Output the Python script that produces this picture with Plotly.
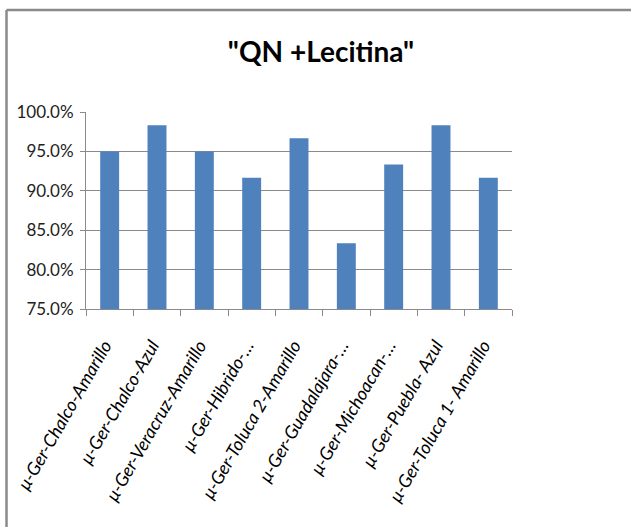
import plotly.graph_objects as go

categories = [
    "μ-Ger-Chalco-Amarillo",
    "μ-Ger-Chalco-Azul",
    "μ-Ger-Veracruz-Amarillo",
    "μ-Ger-Hibrido-…",
    "μ-Ger-Toluca 2-Amarillo",
    "μ-Ger-Guadalajara-…",
    "μ-Ger-Michoacan-…",
    "μ-Ger-Puebla- Azul",
    "μ-Ger-Toluca 1- Amarillo",
]
values = [0.95, 0.9833, 0.95, 0.9167, 0.9667, 0.8333, 0.9333, 0.9833, 0.9167]
y_ticks = [0.75, 0.80, 0.85, 0.90, 0.95, 1.00]
title_text = '"QN +Lecitina"'

W, H = 631, 527
L, R, T, B = 86, 512, 112, 309
pw, ph = R - L, B - T

font_family = "Lato, Open Sans, sans-serif"

fig = go.Figure(go.Bar(
    x=categories, y=values,
    marker=dict(color="#4F81BD", line=dict(width=0)),
    width=0.4,
))

def px_x(x):
    return (x - L) / pw

def px_y(y):
    return (B - y) / ph

fig.update_layout(
    width=W, height=H,
    margin=dict(l=L, r=W - R, t=T, b=H - B, autoexpand=False),
    paper_bgcolor="white", plot_bgcolor="white",
    showlegend=False,
    title=dict(text=title_text, x=321 / W, xanchor="center", y=1 - 52 / H, yanchor="middle",
               font=dict(family=font_family, size=28, color="black", weight="bold")),
    shapes=[
        dict(type="line", xref="paper", yref="paper", x0=px_x(6.5), x1=px_x(W + 2),
             y0=px_y(10), y1=px_y(10), line=dict(color="#8a8a8a", width=2.5)),
        dict(type="line", xref="paper", yref="paper", x0=px_x(6.5), x1=px_x(6.5),
             y0=px_y(10), y1=px_y(H + 2), line=dict(color="#8a8a8a", width=2.5)),
    ],
)

fig.update_xaxes(
    tickangle=-60,
    tickmode="array", tickvals=categories, ticktext=["<i>" + c + "</i>" for c in categories],
    tickfont=dict(family=font_family, size=18, color="black"),
    ticklabelstandoff=18, ticklabelshift=-5,
    showline=True, linecolor="#8a8a8a", linewidth=1,
    ticks="outside", ticklen=6, tickcolor="#8a8a8a", tickson="boundaries",
    showgrid=False,
)
fig.update_yaxes(
    range=[0.75, 1.0],
    tickvals=y_ticks, tickformat=".1%",
    tickfont=dict(family=font_family, size=17, color="#222222"),
    ticklabelstandoff=3,
    showline=True, linecolor="#8a8a8a", linewidth=1,
    ticks="outside", ticklen=5, tickcolor="#8a8a8a",
    showgrid=True, gridcolor="#8a8a8a", gridwidth=1,
    zeroline=False,
)

fig.write_html("out.html")
